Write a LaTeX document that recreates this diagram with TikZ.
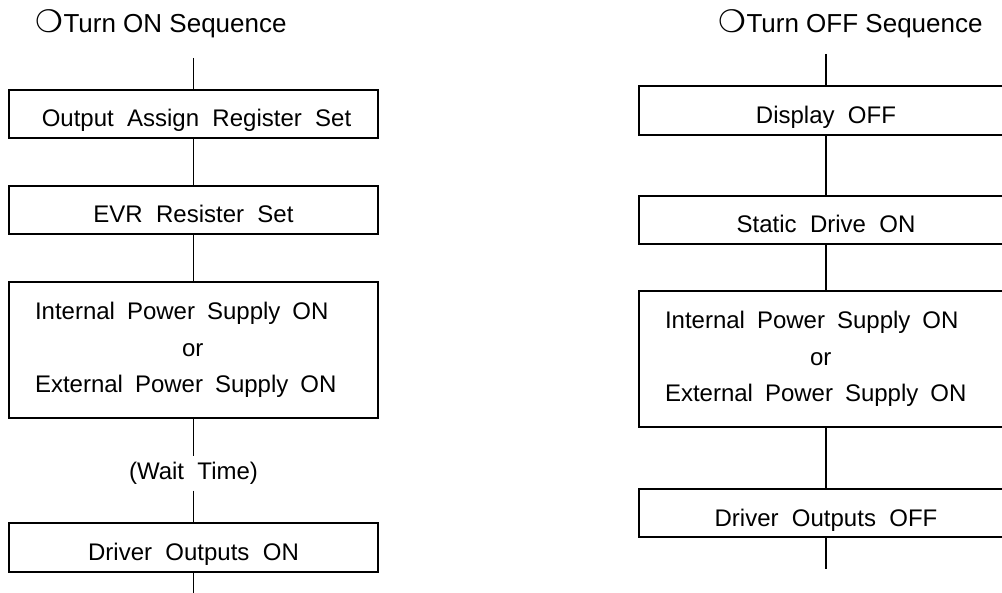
\documentclass[tikz,border=0pt]{standalone}
\usepackage{fontspec}
\setmainfont{Liberation Sans}[WordSpace=2]
\newfontfamily\hdrfont{Liberation Sans}
\newfontfamily\symfont{DejaVu Sans}
\begin{document}
\begin{tikzpicture}[x=1pt,y=-1pt,line width=1.5pt,
  boxtext/.style={font=\fontsize{24}{36.5}\selectfont},
  lbox/.style={draw,rectangle,inner sep=0pt,minimum width=369pt,boxtext,text height=26pt,text depth=0pt},
  rbox/.style={draw,rectangle,inner sep=0pt,minimum width=374pt,boxtext,text height=26pt,text depth=0pt},
  bigl/.style={draw,rectangle,inner ysep=0pt,inner xsep=26pt,minimum width=369pt,text width=317pt,align=left,boxtext},
  bigr/.style={draw,rectangle,inner ysep=0pt,inner xsep=26pt,minimum width=374pt,text width=322pt,align=left,boxtext},
  header/.style={anchor=base west,inner sep=0pt,font=\hdrfont\fontsize{26}{30}\selectfont}]
\useasboundingbox (0,0) rectangle (1002,593);
\clip (0,0) rectangle (1002,593);

% headers
\node[header] (hl) at (35,33) {{\symfont\fontsize{31}{31}\selectfont ❍}Turn ON Sequence};
\node[header] (hr) at (718,33) {{\symfont\fontsize{31}{31}\selectfont ❍}Turn OFF Sequence};

% left column
\coordinate (ltop) at (193.5,58);
\coordinate (lbot) at (193.5,600);
\node[lbox,minimum height=48pt] (l1) at (193.5,114) {\hspace*{6pt}Output Assign Register Set};
\node[lbox,minimum height=48pt] (l2) at (193.5,210) {EVR Resister Set};
\node[bigl,minimum height=136pt] (l3) at (193.5,350) {\spaceskip=12pt Internal Power Supply ON\\\hspace*{147pt}or\\External Power Supply ON};
\node[boxtext,inner sep=0pt,minimum height=33pt] (lw) at (193.5,473.5) {(Wait Time)};
\node[lbox,minimum height=49pt] (l4) at (193.5,547.5) {Driver Outputs ON};

\draw (ltop) -- (l1.north);
\draw (l1.south) -- (l2.north);
\draw (l2.south) -- (l3.north);
\draw (l3.south) -- (lw.north);
\draw (lw.south) -- (l4.north);
\draw (l4.south) -- (lbot);

% right column
\coordinate (rtop) at (826,54);
\coordinate (rbot) at (826,569);
\node[rbox,minimum height=49pt] (r1) at (826,110.5) {Display OFF};
\node[rbox,minimum height=48pt] (r2) at (826,220) {Static Drive ON};
\node[bigr,minimum height=136pt] (r3) at (826,359) {\spaceskip=12pt Internal Power Supply ON\\\hspace*{145pt}or\\External Power Supply ON};
\node[rbox,minimum height=48pt] (r4) at (826,513) {Driver Outputs OFF};

\draw (rtop) -- (r1.north);
\draw (r1.south) -- (r2.north);
\draw (r2.south) -- (r3.north);
\draw (r3.south) -- (r4.north);
\draw (r4.south) -- (rbot);
\end{tikzpicture}
\end{document}
